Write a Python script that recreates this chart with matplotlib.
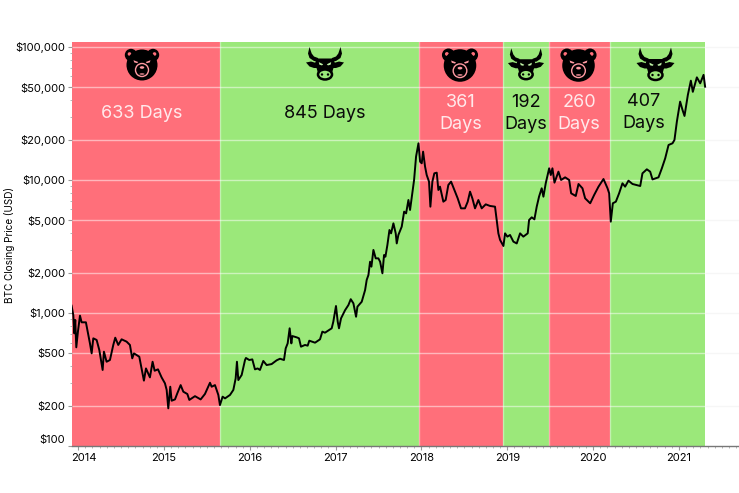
import matplotlib
matplotlib.use("Agg")
import matplotlib.pyplot as plt
from matplotlib.patches import Circle, Ellipse, Polygon
from matplotlib.ticker import FixedLocator, FixedFormatter, NullFormatter
from matplotlib.transforms import Affine2D, ScaledTranslation

plt.rcParams['font.family'] = ['Inter', 'DejaVu Sans']

# btc close (fractional year, usd)
years = [2013.923, 2013.943, 2013.955, 2013.966, 2013.978, 2013.997, 2014.021, 2014.040, 2014.090, 2014.118,
         2014.137, 2014.157, 2014.176, 2014.215, 2014.246, 2014.265, 2014.285, 2014.300, 2014.331, 2014.370,
         2014.409, 2014.432, 2014.467, 2014.506, 2014.564, 2014.603, 2014.630, 2014.650, 2014.712, 2014.739,
         2014.766, 2014.790, 2014.836, 2014.867, 2014.891, 2014.930, 2014.972, 2015.011, 2015.031, 2015.050,
         2015.073, 2015.089, 2015.128, 2015.155, 2015.194, 2015.225, 2015.272, 2015.295, 2015.361, 2015.427,
         2015.477, 2015.536, 2015.555, 2015.594, 2015.633, 2015.652, 2015.683, 2015.711, 2015.769, 2015.808,
         2015.835, 2015.850, 2015.866, 2015.905, 2015.944, 2015.955, 2015.994, 2016.029, 2016.060, 2016.091,
         2016.118, 2016.157, 2016.196, 2016.254, 2016.313, 2016.352, 2016.398, 2016.418, 2016.441, 2016.464,
         2016.484, 2016.495, 2016.546, 2016.573, 2016.596, 2016.643, 2016.674, 2016.693, 2016.760, 2016.818,
         2016.845, 2016.876, 2016.954, 2016.973, 2017.004, 2017.024, 2017.039, 2017.063, 2017.110, 2017.149,
         2017.176, 2017.207, 2017.238, 2017.254, 2017.304, 2017.343, 2017.362, 2017.382, 2017.401, 2017.417,
         2017.440, 2017.467, 2017.498, 2017.518, 2017.545, 2017.564, 2017.580, 2017.603, 2017.627, 2017.646,
         2017.673, 2017.700, 2017.712, 2017.731, 2017.770, 2017.798, 2017.821, 2017.848, 2017.867, 2017.895,
         2017.914, 2017.937, 2017.965, 2017.984, 2018.003, 2018.019, 2018.042, 2018.061, 2018.088, 2018.104,
         2018.127, 2018.150, 2018.178, 2018.197, 2018.216, 2018.255, 2018.282, 2018.313, 2018.345, 2018.383,
         2018.422, 2018.461, 2018.507, 2018.539, 2018.566, 2018.593, 2018.624, 2018.663, 2018.702, 2018.749,
         2018.799, 2018.857, 2018.877, 2018.896, 2018.916, 2018.955, 2018.974, 2019.001, 2019.032, 2019.071,
         2019.110, 2019.149, 2019.187, 2019.238, 2019.254, 2019.285, 2019.316, 2019.343, 2019.370, 2019.401,
         2019.421, 2019.448, 2019.488, 2019.507, 2019.526, 2019.550, 2019.596, 2019.627, 2019.674, 2019.721,
         2019.744, 2019.798, 2019.830, 2019.876, 2019.907, 2019.966, 2020.012, 2020.063, 2020.121, 2020.168,
         2020.187, 2020.206, 2020.230, 2020.265, 2020.303, 2020.342, 2020.373, 2020.412, 2020.459, 2020.549,
         2020.575, 2020.626, 2020.665, 2020.692, 2020.762, 2020.801, 2020.840, 2020.879, 2020.925, 2020.948,
         2020.976, 2021.014, 2021.042, 2021.065, 2021.104, 2021.139, 2021.162, 2021.209, 2021.248, 2021.287,
         2021.305]
prices = [1135, 966, 703, 886, 552, 724, 955, 851, 851, 683,
          591, 497, 645, 627, 527, 443, 373, 512, 430, 443,
          575, 652, 575, 634, 609, 575, 456, 497, 469, 383,
          310, 383, 328, 430, 368, 377, 328, 296, 264, 192,
          279, 219, 224, 249, 287, 256, 246, 222, 237, 224,
          246, 299, 279, 287, 242, 203, 235, 228, 242, 264,
          322, 430, 313, 342, 443, 459, 443, 448, 377, 383,
          373, 436, 406, 413, 441, 453, 443, 542, 591, 767,
          591, 671, 656, 645, 558, 575, 568, 619, 598, 634,
          724, 711, 767, 861, 1129, 861, 767, 912, 1050, 1148,
          1270, 1182, 937, 1116, 1215, 1486, 1774, 1930, 2430, 2230,
          2980, 2575, 2575, 2430, 1987, 2728, 2650, 3246, 4207, 3970,
          4720, 3970, 3334, 3860, 4456, 5777, 5612, 7074, 5948, 8170,
          10000, 14980, 18870, 13740, 13350, 16330, 12600, 10900, 9720, 6300,
          9720, 11220, 11350, 8410, 8910, 6870, 7070, 9170, 9720, 8410,
          7280, 6120, 6120, 6870, 8170, 7280, 6120, 7070, 6120, 6560,
          6380, 6300, 5000, 3970, 3540, 3190, 3970, 3750, 3860, 3440,
          3334, 3970, 3750, 3970, 5000, 5240, 5060, 6300, 7490, 8660,
          7490, 9440, 12240, 10900, 12240, 9550, 11550, 10000, 10470, 10000,
          7940, 7580, 9330, 8660, 7280, 6680, 7710, 8910, 10170, 8660,
          7940, 4860, 6680, 6870, 7940, 9440, 8910, 9880, 9330, 9010,
          11220, 12030, 11550, 10100, 10470, 12240, 14550, 18330, 18870, 20000,
          27470, 38830, 33600, 30300, 43600, 55800, 46000, 59100, 53300, 61700,
          50300]

# bear / bull periods
period_edges = [2013.928, 2015.647, 2017.966, 2018.951, 2019.487, 2020.198, 2021.305]
period_kinds = ['bear', 'bull', 'bear', 'bull', 'bear', 'bull']
period_labels = ['633 Days', '845 Days', '361\nDays', '192\nDays', '260\nDays', '407\nDays']

y_ticks = [100, 200, 500, 1000, 2000, 5000, 10000, 20000, 50000, 100000]
y_tick_labels = ['$100', '$200', '$500', '$1,000', '$2,000', '$5,000', '$10,000', '$20,000', '$50,000', '$100,000']
x_ticks = [2014, 2015, 2016, 2017, 2018, 2019, 2020, 2021]

RED = '#FF6F7A'
GREEN = '#9BE87A'
W, H = 739, 493

fig = plt.figure(figsize=(W / 100, H / 100), dpi=100)
ax = fig.add_axes([72 / W, 1 - 446 / H, (739 - 72) / W, (446 - 42) / H])
ax.set_yscale('log')
ax.set_xlim(2013.928, 2021.70)
ax.set_ylim(100, 109000)

# image pixel coords, y going down
px = Affine2D().scale(1, -1).translate(0, H)

for i, kind in enumerate(period_kinds):
    ax.axvspan(period_edges[i], period_edges[i + 1], color=RED if kind == 'bear' else GREEN, lw=0, zorder=1)
for e in period_edges[1:-1]:
    ax.axvline(e, color='white', alpha=0.4, lw=1, zorder=2)

# gridlines: faint on white, stronger over the bands
ax.hlines(y_ticks[1:], period_edges[-1], 2021.70, color='#f6f6f6', lw=1, zorder=0)
ax.hlines(y_ticks[1:], period_edges[0], period_edges[-1], color='white', alpha=0.5, lw=1, zorder=2)

ax.plot(years, prices, color='black', lw=1.4, zorder=3)

for s in ['top', 'right', 'left']:
    ax.spines[s].set_visible(False)
ax.spines['bottom'].set_color('#777777')
ax.spines['bottom'].set_linewidth(1)

ax.yaxis.set_major_locator(FixedLocator(y_ticks))
ax.yaxis.set_major_formatter(FixedFormatter(y_tick_labels))
ax.yaxis.set_minor_locator(FixedLocator([m * 10 ** d for d in (2, 3, 4) for m in (3, 4, 6, 7, 8, 9)]))
ax.yaxis.set_minor_formatter(NullFormatter())
ax.xaxis.set_major_locator(FixedLocator(x_ticks))
ax.xaxis.set_major_formatter(FixedFormatter([str(y) for y in x_ticks]))
ax.xaxis.set_minor_locator(FixedLocator([2014 + m / 12 for m in range(-1, 93)]))
ax.tick_params(axis='both', which='major', labelsize=8, length=3, width=0.8, color='#999999', labelcolor='black', pad=2)
ax.tick_params(axis='both', which='minor', length=1.5, width=0.6, color='#aaaaaa')

# first x label and lowest y label are nudged so they stay clear of the corner
lab = ax.get_xticklabels()[0]
lab.set_transform(lab.get_transform() + ScaledTranslation(6 / 100, 0, fig.dpi_scale_trans))
lab = ax.get_yticklabels()[0]
lab.set_transform(lab.get_transform() + ScaledTranslation(0, 7 / 100, fig.dpi_scale_trans))

fig.text(10, 245, 'BTC Closing Price (USD)', transform=px, rotation=90, ha='center', va='center', fontsize=7.2)


def add(patch):
    patch.set_transform(px)
    patch.set_clip_on(False)
    patch.set_zorder(5)
    fig.add_artist(patch)


def poly(cx, cy, s, pts, color, flip=1):
    add(Polygon([(cx + flip * x * s, cy + y * s) for x, y in pts], closed=True, fc=color, ec='none'))


def draw_bear(cx, cy, s=1.0):
    for side in (-1, 1):
        add(Circle((cx + side * 11 * s, cy - 10 * s), 6.2 * s, fc='black', ec='none'))
        add(Circle((cx + side * 12.5 * s, cy - 11 * s), 1.8 * s, fc=RED, ec='none'))
    add(Ellipse((cx, cy), 31 * s, 31 * s, fc='black', ec='none'))
    for side in (-1, 1):
        poly(cx, cy, s, [(3.8, -3.0), (8.5, -4.8), (7.8, -2.6), (4.8, -1.8)], '#FF9AA2', side)
    add(Ellipse((cx, cy + 5 * s), 13 * s, 13 * s, fc='black', ec='#FF9AA2', lw=1.0))
    add(Ellipse((cx, cy + 2.5 * s), 4.5 * s, 2.6 * s, fc='#FF9AA2', ec='none'))
    add(Ellipse((cx, cy + 9 * s), 5 * s, 1.4 * s, fc='#FF9AA2', ec='none'))


HORN = [(-15.5, -16.5), (-17, -10), (-15.5, -5.5), (-11, -2.5), (-6, -2), (-7, -5.5), (-11, -7), (-13.3, -10)]
EAR = [(-7, 0), (-14, -2), (-19, -1), (-15.5, 3), (-11, 4.5), (-7, 4.5)]
HEAD = [(-8.5, -5), (8.5, -5), (10, 0), (8, 6), (7, 10), (-7, 10), (-8, 6), (-10, 0)]


def draw_bull(cx, cy, s=1.0):
    for side in (-1, 1):
        poly(cx, cy, s, HORN, 'black', side)
        poly(cx, cy, s, EAR, 'black', side)
    poly(cx, cy, s, HEAD, 'black')
    for side in (-1, 1):
        poly(cx, cy, s, [(1.8, 0.8), (6.2, -1.4), (5.6, 1.2), (3, 1.9)], '#BDF0A6', side)
    add(Ellipse((cx, cy + 11 * s), 14 * s, 10 * s, fc=GREEN, ec='black', lw=1.8))
    for side in (-1, 1):
        add(Circle((cx + side * 3 * s, cy + 11 * s), 1.2 * s, fc='black', ec='none'))


draw_bear(142, 65, 1.0)
draw_bull(325, 63.5, 1.0)
draw_bear(460, 65.5, 1.05)
draw_bull(526, 64, 0.95)
draw_bear(578.5, 65.5, 1.05)
draw_bull(655.5, 64, 1.0)

# period length captions
label_x = [141.5, 325, 461, 526, 579, 644]
label_y = [114, 113, 113.5, 113.5, 113.5, 112.5]
for i, txt in enumerate(period_labels):
    col = '#FFE9EB' if period_kinds[i] == 'bear' else '#0a0a0a'
    fig.text(label_x[i], label_y[i], txt, transform=px, ha='center', va='center',
             fontsize=13, color=col, linespacing=1.45, zorder=6)

fig.savefig('out.png', dpi=100, facecolor='white')
